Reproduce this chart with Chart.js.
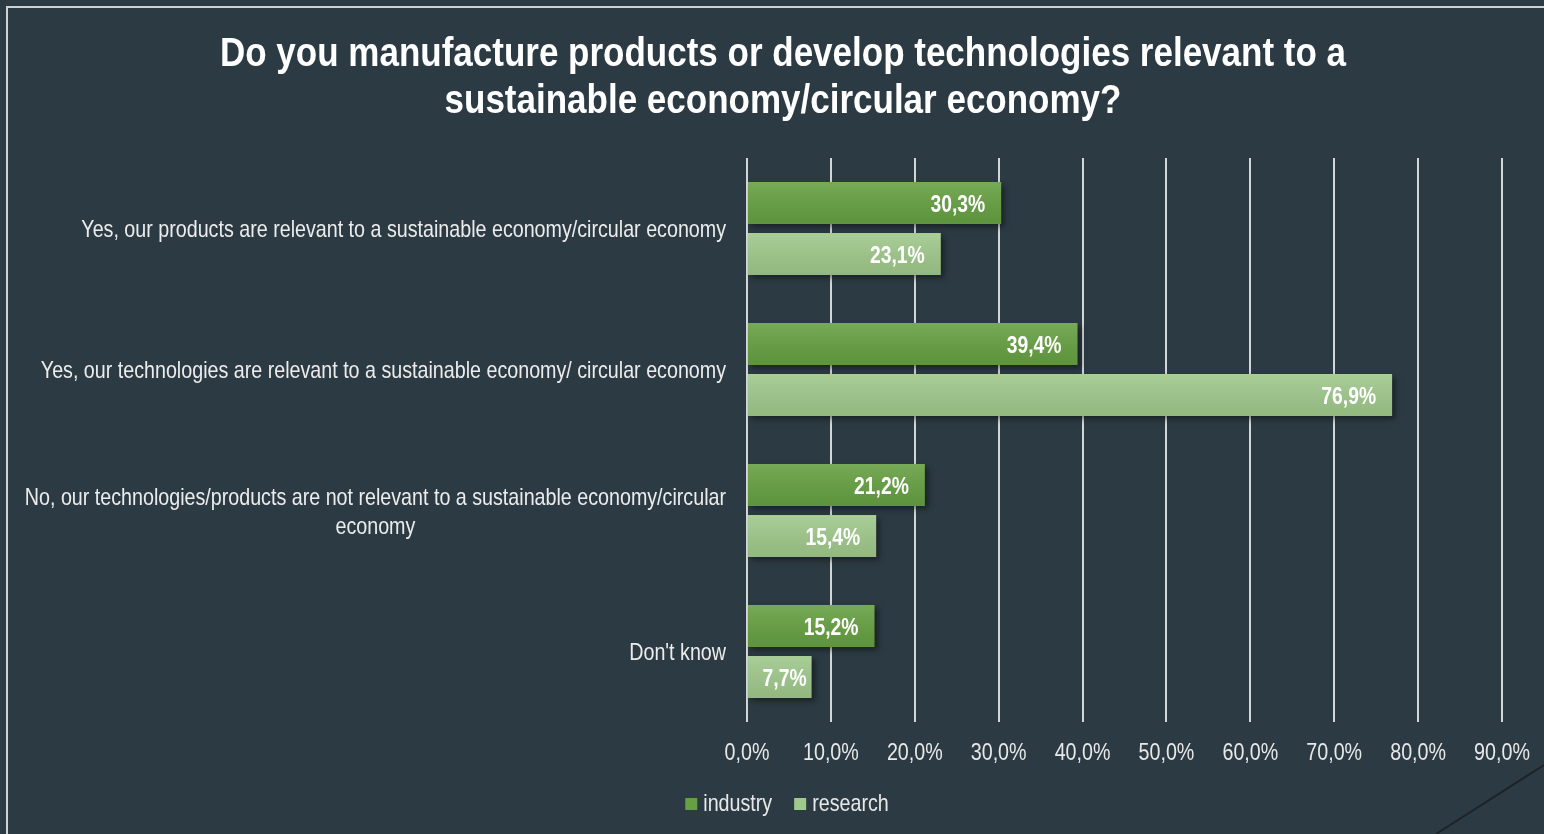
<!DOCTYPE html>
<html>
<head>
<meta charset="utf-8">
<title>Sustainable economy survey</title>
<script src="https://cdn.jsdelivr.net/npm/chart.js@4.4.1/dist/chart.umd.min.js"></script>
<style>
  html, body { margin: 0; padding: 0; background: #2c3b43; overflow: hidden; }
  .frame { position: absolute; left: 6px; top: 6px; width: 1600px; height: 900px;
           border-top: 2px solid #cdd1d3; border-left: 2px solid #cdd1d3; }
  .chart-box { position: absolute; left: 0; top: 0; width: 1544px; height: 834px; }
  .corner { position: absolute; left: 0; top: 0; }
</style>
</head>
<body>
<div class="frame"></div>
<svg class="corner" width="1544" height="834">
  <line x1="1436" y1="834" x2="1544" y2="765" stroke="#1c2428" stroke-width="2"/>
</svg>
<div class="chart-box"><canvas id="surveyChart"></canvas></div>
<script>
// Survey answers (share of respondents, %)
const titleLines = [
  'Do you manufacture products or develop technologies relevant to a',
  'sustainable economy/circular economy?'
];
const categories = [
  ["Yes, our products are relevant to a sustainable economy/circular economy"],
  ["Yes, our technologies are relevant to a sustainable economy/ circular economy"],
  ["No, our technologies/products are not relevant to a sustainable economy/circular", "economy"],
  ["Don't know"]
];
const industry = [30.3, 39.4, 21.2, 15.2];
const research = [23.1, 76.9, 15.4, 7.7];
const xTickValues = [0, 10, 20, 30, 40, 50, 60, 70, 80, 90];

const FONT = '"Liberation Sans", Arial, sans-serif';
const NARROW = 0.82; // squeeze to a condensed look
const pct = v => v.toFixed(1).replace('.', ',') + '%';

// fillText squeezed horizontally around its anchor
function narrowText(ctx, text, x, y, align, sx) {
  ctx.save();
  ctx.translate(x, y);
  ctx.scale(sx, 1);
  ctx.textAlign = align;
  ctx.fillText(text, 0, 0);
  ctx.restore();
}

// Title, category names, x tick labels and legend
const chartText = {
  id: 'chartText',
  afterDraw(chart) {
    const { ctx, scales: { x, y } } = chart;
    ctx.save();
    ctx.textBaseline = 'alphabetic';

    // title
    ctx.fillStyle = '#ffffff';
    ctx.font = 'bold 40px ' + FONT;
    titleLines.forEach((t, i) => narrowText(ctx, t, 783, 66 + i * 47, 'center', 0.875));

    // category names, multi-line ones centred on each other
    ctx.font = '24px ' + FONT;
    ctx.fillStyle = '#ececec';
    const right = y.right - 21;
    const lineHeight = 29;
    categories.forEach((lines, i) => {
      const w = Math.max(...lines.map(l => ctx.measureText(l).width)) * NARROW;
      const cy = y.getPixelForValue(i);
      lines.forEach((l, k) => {
        const ly = cy + (k - (lines.length - 1) / 2) * lineHeight + 8.5;
        narrowText(ctx, l, right - w / 2, ly, 'center', NARROW);
      });
    });

    // x tick labels
    ctx.fillStyle = '#e8e8e8';
    xTickValues.forEach(v => narrowText(ctx, pct(v), x.getPixelForValue(v), y.bottom + 38, 'center', NARROW));

    // legend
    const items = chart.data.datasets.map(ds => ({
      text: ds.label,
      color: ds.backgroundColor,
      w: ctx.measureText(ds.label).width * NARROW
    }));
    const box = 12, gap = 6, itemGap = 22;
    const total = items.reduce((s, it) => s + box + gap + it.w, 0) + itemGap * (items.length - 1);
    let lx = 787 - total / 2;
    const baseY = y.bottom + 89;
    items.forEach(it => {
      ctx.fillStyle = it.color;
      ctx.fillRect(lx, baseY - 13, box, box);
      ctx.fillStyle = '#e8e8e8';
      narrowText(ctx, it.text, lx + box + gap, baseY, 'left', NARROW);
      lx += box + gap + it.w + itemGap;
    });
    ctx.restore();
  }
};

// Drop shadow under the bars, a soft sheen on top and the value labels
const barFinish = {
  id: 'barFinish',
  beforeDatasetsDraw(chart) {
    const ctx = chart.ctx;
    ctx.save();
    ctx.shadowColor = 'rgba(0, 0, 0, 0.45)';
    ctx.shadowBlur = 6;
    ctx.shadowOffsetX = 3;
    ctx.shadowOffsetY = 3;
  },
  afterDatasetsDraw(chart) {
    const ctx = chart.ctx;
    ctx.restore();
    ctx.save();
    chart.data.datasets.forEach((ds, di) => {
      chart.getDatasetMeta(di).data.forEach((bar, i) => {
        const { x, y, base, height } = bar.getProps(['x', 'y', 'base', 'height'], true);
        const top = y - height / 2;
        const g = ctx.createLinearGradient(0, top, 0, top + height);
        g.addColorStop(0, 'rgba(255, 255, 255, 0.11)');
        g.addColorStop(1, 'rgba(0, 0, 0, 0.08)');
        ctx.fillStyle = g;
        ctx.fillRect(base, top, x - base, height);

        // label sits inside the bar end, pushed right on short bars
        ctx.font = 'bold 23px ' + FONT;
        ctx.fillStyle = '#ffffff';
        ctx.textBaseline = 'alphabetic';
        const text = pct(ds.data[i]);
        const tw = ctx.measureText(text).width * 0.84;
        const tx = Math.min(x - 5, Math.max(x - 16, base + 16 + tw));
        narrowText(ctx, text, tx, y + 9, 'right', 0.84);
      });
    });
    ctx.restore();
  }
};

const ctxSurvey = document.getElementById('surveyChart').getContext('2d');
const surveyChart = new Chart(ctxSurvey, {
  type: 'bar',
  data: {
    labels: categories,
    datasets: [
      {
        label: 'industry',
        data: industry,
        backgroundColor: '#66a042',
        borderWidth: 0,
        categoryPercentage: 0.726,
        barPercentage: 0.82
      },
      {
        label: 'research',
        data: research,
        backgroundColor: '#9fc88b',
        borderWidth: 0,
        categoryPercentage: 0.726,
        barPercentage: 0.82
      }
    ]
  },
  options: {
    indexAxis: 'y',
    responsive: true,
    maintainAspectRatio: false,
    animation: false,
    layout: { padding: { left: 0, right: 42, top: 158, bottom: 112 } },
    scales: {
      x: {
        min: 0,
        max: 90,
        afterBuildTicks: scale => { scale.ticks = xTickValues.map(v => ({ value: v })); },
        ticks: { display: false },
        grid: { color: '#d3d6d7', lineWidth: 2, drawTicks: false },
        border: { display: false },
        afterFit: scale => { scale.height = 0; }
      },
      y: {
        ticks: { display: false },
        grid: { display: false },
        border: { display: false },
        afterFit: scale => { scale.width = 747; }
      }
    },
    plugins: {
      title: { display: false },
      legend: { display: false },
      tooltip: { enabled: false }
    }
  },
  plugins: [barFinish, chartText]
});
</script>
</body>
</html>
